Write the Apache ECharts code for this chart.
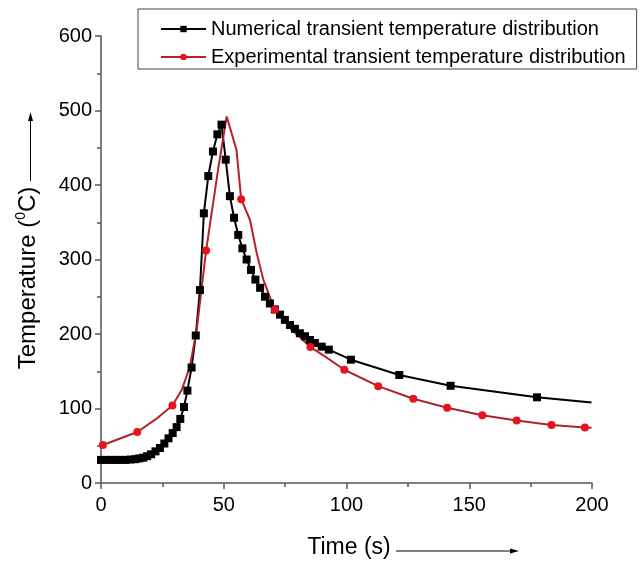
<!DOCTYPE html>
<html><head><meta charset="utf-8">
<script src="https://cdn.jsdelivr.net/npm/echarts@6/dist/echarts.min.js"></script>
<style>html,body{margin:0;padding:0;background:#fff}#c{width:640px;height:562px}</style>
</head><body><div id="c"></div>
<script>
// ---- data ----
const seriesNames = ['Numerical transient temperature distribution', 'Experimental transient temperature distribution'];
const xTickValues = [0, 50, 100, 150, 200];
const yTickValues = [0, 100, 200, 300, 400, 500, 600];
const xTitle = 'Time (s)';
const yTitleMain = 'Temperature (';
const yTitleSup = '0';
const yTitleEnd = 'C)';

// Numerical: simulated points (all marked)
const numTime = [0,2,4,6,8,10,12,14,15.6,17.2,18.8,20.4,22.2,24,25.8,27.5,29.2,30.8,32.3,33.8,35.2,36.9,38.6,40.3,41.9,43.7,45.6,47.4,49.1,50.8,52.5,54.2,55.9,57.6,59.3,61.1,62.9,64.8,66.8,68.8,70.8,72.9,74.9,77,79,81,83.1,85.1,87.1,89.9,92.8,101.8,121.5,142.4,177.6];
const numTemp = [31,31,31,31,31,31,31.5,32,33,34,36,38.5,42.5,47,53,60,67,75,86,102,124,155,198,259,362,412,445,468,481,434,385,356,333,315,300,286,273,262,250,241,233,226,219,212,207,201,197,192,188,183,179,165.5,145,130.5,115];
// Numerical: line end (unmarked)
const numEndTime = [199.8];
const numEndTemp = [108];

// Experimental: measured points (marked)
const expTime = [0.8,14.8,29.1,42.8,57.1,70.8,85.3,99.1,112.9,127.2,141,155.3,169.3,183.5,197.1];
const expTemp = [51,68.5,104,312,381,232.5,182.5,152,130,113,101,91,84,78,74.6];
// Experimental: extra line vertices (unmarked)
const expLineTime = [22.5,32.9,36.2,39,47.8,51.2,55.2,60.7,63.4,66.1,77.6,91.2,199.8];
const expLineTemp = [86,125,156,206,423,492,447,353,309,273,206,170,74];

// ---- build ----
function build(t, v, lt, lv) {
  const pts = [];
  t.forEach((x, i) => pts.push({ value: [x, v[i]] }));
  lt.forEach((x, i) => pts.push({ value: [x, lv[i]], symbol: 'none' }));
  pts.sort((a, b) => a.value[0] - b.value[0]);
  return pts;
}
const FONT = 'Liberation Sans, Arial, sans-serif';
const chart = echarts.init(document.getElementById('c'), null, { renderer: 'canvas' });
const axisCol = '#555';
chart.setOption({
  animation: false,
  backgroundColor: '#fff',
  grid: { left: 101, right: 48, top: 36, bottom: 79 },
  legend: {
    orient: 'vertical', left: 138, top: 9,
    padding: [10, 11, 2, 22], itemGap: 8, itemWidth: 45, itemHeight: 8,
    borderColor: '#444', borderWidth: 1,
    textStyle: { fontSize: 20, fontFamily: FONT, color: '#000' },
    data: seriesNames
  },
  xAxis: {
    type: 'value', min: xTickValues[0], max: xTickValues[xTickValues.length - 1], interval: 50,
    axisLine: { show: true, lineStyle: { color: axisCol, width: 1.5 } },
    axisTick: { show: true, length: 6, lineStyle: { color: axisCol, width: 1.5 } },
    minorTick: { show: true, splitNumber: 2, length: 4, lineStyle: { color: axisCol, width: 1.5 } },
    splitLine: { show: false },
    axisLabel: { fontSize: 20, fontFamily: FONT, color: '#000', margin: 12 }
  },
  yAxis: {
    type: 'value', min: yTickValues[0], max: yTickValues[yTickValues.length - 1], interval: 100,
    axisLine: { show: true, lineStyle: { color: axisCol, width: 1.5 } },
    axisTick: { show: true, length: 6, lineStyle: { color: axisCol, width: 1.5 } },
    minorTick: { show: true, splitNumber: 2, length: 4, lineStyle: { color: axisCol, width: 1.5 } },
    splitLine: { show: false },
    axisLabel: { fontSize: 20, fontFamily: FONT, color: '#000', margin: 9 }
  },
  series: [
    {
      name: seriesNames[0], type: 'line',
      data: build(numTime, numTemp, numEndTime, numEndTemp),
      symbol: 'rect', symbolSize: 8, showAllSymbol: true,
      lineStyle: { color: '#000', width: 2 },
      itemStyle: { color: '#000' }
    },
    {
      name: seriesNames[1], type: 'line',
      data: build(expTime, expTemp, expLineTime, expLineTemp),
      symbol: 'circle', symbolSize: 8, showAllSymbol: true,
      lineStyle: { color: '#b0232a', width: 2 },
      itemStyle: { color: '#e8141c' }
    }
  ],
  graphic: [
    {
      type: 'text', x: 349, y: 548,
      style: { text: xTitle, font: '23px ' + FONT, fill: '#000', align: 'center', verticalAlign: 'middle' }
    },
    { type: 'line', shape: { x1: 396, y1: 551, x2: 512, y2: 551 }, style: { stroke: '#000', lineWidth: 1 } },
    { type: 'polygon', shape: { points: [[519, 551], [510, 548.5], [510, 553.5]] }, style: { fill: '#000' } },
    {
      type: 'text', x: 28, y: 278, rotation: Math.PI / 2,
      style: {
        text: '{a|' + yTitleMain + '}{s|' + yTitleSup + '}{a|' + yTitleEnd + '}',
        align: 'center', verticalAlign: 'middle', fill: '#000',
        rich: {
          a: { fontSize: 24, fontFamily: FONT, fill: '#000', lineHeight: 28 },
          s: { fontSize: 14, fontFamily: FONT, fill: '#000', verticalAlign: 'top', lineHeight: 28 }
        }
      }
    },
    { type: 'line', shape: { x1: 30.5, y1: 181, x2: 30.5, y2: 120 }, style: { stroke: '#000', lineWidth: 1 } },
    { type: 'polygon', shape: { points: [[30.5, 112], [28, 121], [33, 121]] }, style: { fill: '#000' } }
  ]
});
</script></body></html>
